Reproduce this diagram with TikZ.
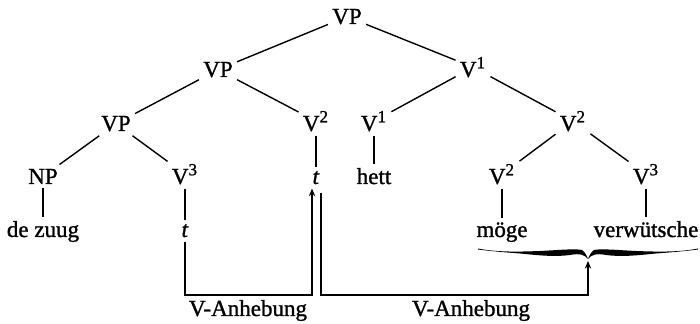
\documentclass[tikz,border=0pt]{standalone}
\usepackage{fontspec}
\setmainfont{Liberation Serif}[BoldFont=Liberation Serif,BoldItalicFont=Liberation Serif Italic,BoldFeatures={FakeBold=1.2},BoldItalicFeatures={FakeBold=1.2}]
\usetikzlibrary{arrows.meta}
\newcommand{\Vs}[1]{V\textsuperscript{\fontsize{8.5}{8.5}\selectfont #1}}
\begin{document}
\begin{tikzpicture}[x=0.5pt,y=-0.5pt,
  font=\fontsize{11.5}{13}\selectfont\bfseries,
  every node/.style={inner sep=2pt},
  lbl/.style={anchor=base},
  edge/.style={line width=0.7pt},
  conn/.style={line width=0.7pt,-{Stealth[length=3.8pt,width=3.2pt]}}]
\useasboundingbox (0,0) rectangle (700,324);
% level 1
\node[lbl] (vp0) at (347,24) {VP};
% level 2
\node[lbl] (vp1) at (218,77) {VP};
\node[lbl] (v1a) at (473,77) {\Vs{1}};
% level 3
\node[lbl] (vp2) at (116,131) {VP};
\node[lbl] (v2a) at (316,131) {\Vs{2}};
\node[lbl] (v1b) at (374,131) {\Vs{1}};
\node[lbl] (v2b) at (573,131) {\Vs{2}};
% level 4
\node[lbl] (np) at (43,184) {NP};
\node[lbl] (v3a) at (185,184) {\Vs{3}};
\node[lbl] (ta) at (316,184) {\textit{t}};
\node[lbl] (hett) at (374,184) {hett};
\node[lbl] (v2c) at (502,184) {\Vs{2}};
\node[lbl] (v3b) at (646,184) {\Vs{3}};
% words
\node[lbl] (dezuug) at (43,237) {de zuug};
\node[lbl] (tb) at (185,237) {\textit{t}};
\node[lbl] (moege) at (502,237) {möge};
\node[lbl] (verw) at (646,237) {verwütsche};
% edges
\foreach \a/\b in {vp0/vp1,vp0/v1a,vp1/vp2,vp1/v2a,v1a/v1b,v1a/v2b,vp2/np,vp2/v3a,
  v2a/ta,v1b/hett,v2b/v2c,v2b/v3b,np/dezuug,v3a/tb,v2c/moege,v3b/verw}
  \draw[edge] (\a) -- (\b);
% brace
\fill (478,248.5) .. controls (495,252) and (515,252) .. (540,251)
  .. controls (560,250) and (575,248.5) .. (582,250)
  .. controls (585,252) and (587,256) .. (588,259)
  .. controls (585,255) and (580,253) .. (570,255)
  .. controls (555,257) and (540,255.5) .. (520,253.5)
  .. controls (500,252) and (490,251) .. (478,249.5) -- cycle;
\fill (698,248.5) .. controls (681,252) and (661,252) .. (636,251)
  .. controls (616,250) and (601,248.5) .. (594,250)
  .. controls (591,252) and (589,256) .. (588,259)
  .. controls (591,255) and (596,253) .. (606,255)
  .. controls (621,257) and (636,255.5) .. (656,253.5)
  .. controls (676,252) and (686,251) .. (698,249.5) -- cycle;
\coordinate (brtip) at (588,261);
\coordinate (base) at (0,295);
% arrows
\draw[conn] (tb.south) -- (tb.south |- base) -| ([xshift=-2pt]ta.south);
\draw[conn] ([xshift=2.5pt,yshift=-2pt]ta.south) -- ([xshift=2.5pt]ta.south |- base) -| (brtip);
% labels
\node[lbl] (lab1) at (248,316) {V-Anhebung};
\node[lbl] (lab2) at (471,316) {V-Anhebung};
\end{tikzpicture}
\end{document}
